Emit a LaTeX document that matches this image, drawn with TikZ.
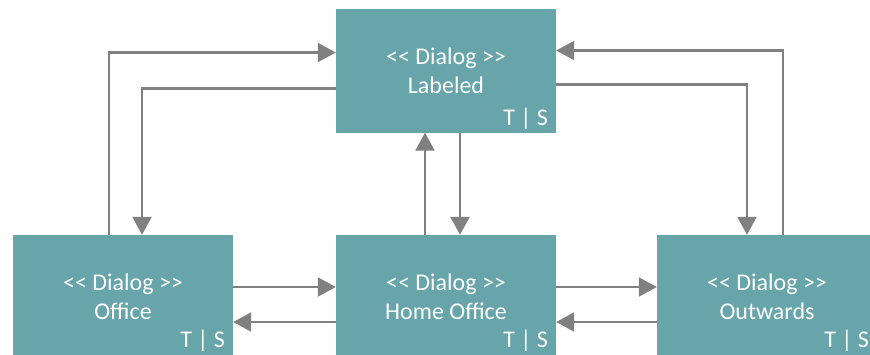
\documentclass[tikz,border=0pt]{standalone}
\usepackage{fontspec}
\setmainfont{Carlito}
\usetikzlibrary{arrows.meta,calc}
\definecolor{dlgfill}{RGB}{103,165,171}
\definecolor{linkgray}{RGB}{128,128,128}
\newcommand{\stereo}{{<}{<} Dialog {>}{>}}
\tikzset{
  dialog/.style={rectangle, fill=dlgfill, draw=none, minimum width=220pt, minimum height=124pt,
    inner sep=0pt, text=white, align=center, font=\fontsize{24}{29}\selectfont},
  tag/.style={anchor=base east, text=white, inner sep=0pt, font=\fontsize{24}{26}\selectfont},
  link/.style={draw=linkgray, line width=2.2pt, -{Triangle[length=18pt,width=19pt]}}
}
\begin{document}
\begin{tikzpicture}[x=1pt,y=-1pt]
  \useasboundingbox (0,0) rectangle (870,354);
  \clip (0,0) rectangle (870,354);

  % dialog boxes
  \node[dialog] (lab) at (446,70.5) {\stereo\\Labeled};
  \node[dialog] (off) at (123,297) {\stereo\\Office};
  \node[dialog] (home) at (446,297) {\stereo\\Home Office};
  \node[dialog] (out) at (767,297) {\stereo\\Outwards};

  % T | S tags
  \node[tag] at ($(lab.north east)+(-8,117)$) {T | S};
  \node[tag] at ($(off.north east)+(-8,113)$) {T | S};
  \node[tag] at ($(home.north east)+(-8,113)$) {T | S};
  \node[tag] at ($(out.north east)+(-8,113)$) {T | S};

  % Office <-> Labeled
  \draw[link] ([xshift=-14pt]off.north) |- ([yshift=18pt]lab.west);
  \draw[link] ([yshift=-18pt]lab.west) -| ([xshift=19pt]off.north);

  % Labeled <-> Outwards
  \draw[link] ([yshift=-14pt]lab.east) -| ([xshift=-20pt]out.north);
  \draw[link] ([xshift=16pt]out.north) |- ([yshift=20pt]lab.east);

  % Labeled <-> Home Office
  \draw[link] ([xshift=-21pt]home.north) -- ([xshift=-21pt]lab.south);
  \draw[link] ([xshift=14pt]lab.south) -- ([xshift=14pt]home.north);

  % Office <-> Home Office
  \draw[link] ([yshift=10pt]off.east) -- ([yshift=10pt]home.west);
  \draw[link] ([yshift=-25pt]home.west) -- ([yshift=-25pt]off.east);

  % Home Office <-> Outwards
  \draw[link] ([yshift=10pt]home.east) -- ([yshift=10pt]out.west);
  \draw[link] ([yshift=-25pt]out.west) -- ([yshift=-25pt]home.east);
\end{tikzpicture}
\end{document}
